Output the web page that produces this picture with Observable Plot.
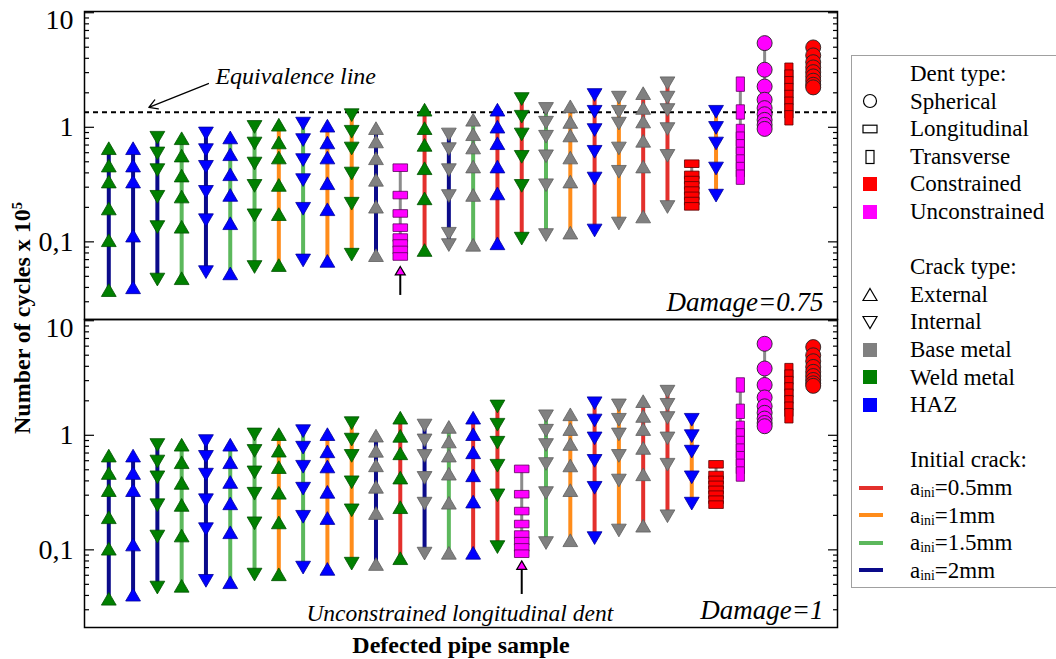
<!DOCTYPE html>
<html><head><meta charset="utf-8">
<script src="https://cdn.jsdelivr.net/npm/d3@7"></script>
<script src="https://cdn.jsdelivr.net/npm/@observablehq/plot@0.6"></script>
<style>
html,body{margin:0;padding:0;background:#fff;overflow:hidden;}
#wrap{position:relative;width:1056px;height:659px;font-family:"Liberation Serif","Times New Roman",serif;color:#000;overflow:hidden;}
#chart{position:absolute;left:0;top:0;}
#chart svg, #chart svg text{font-family:"Liberation Serif","Times New Roman",serif !important;}
.ytitle{position:absolute;left:22px;top:318px;transform:translate(-50%,-50%) rotate(-90deg);font-weight:bold;font-size:24px;white-space:nowrap;}
.xtitle{position:absolute;left:461px;top:645px;transform:translate(-50%,-50%);font-weight:bold;font-size:24px;white-space:nowrap;}
.ytitle sup{font-size:60%;vertical-align:0.55em;line-height:0;}
#legend{position:absolute;left:851px;top:55px;width:230px;height:533px;border:1px solid #a0a0a0;box-sizing:border-box;padding-top:4px;font-size:23px;}
.row{height:27.6px;line-height:27.6px;position:relative;white-space:nowrap;}
.row svg{position:absolute;left:3px;top:3.8px;overflow:visible;}
.row span{position:absolute;left:58px;top:0;}
.row sub{font-size:60%;vertical-align:-0.12em;line-height:0;}
</style>
</head>
<body>
<div id="wrap">
  <div id="chart"></div>
  <div class="ytitle">Number of cycles x 10<sup>5</sup></div>
  <div class="xtitle">Defected pipe sample</div>
  <div id="legend"></div>
</div>
<script>
// ---------------- data ----------------
const panels = ["0.75", "1"];
const majorTicks = [0.1, 1, 10];
const tickLabels = ["0,1", "1", "10"];
const minorTicks = [0.03,0.04,0.05,0.06,0.07,0.08,0.09,0.2,0.3,0.4,0.5,0.6,0.7,0.8,0.9,2,3,4,5,6,7,8,9];

// column descriptors: [initial crack, marker type, material / dent condition]
const topColumns = [
 ["2mm","external","weld"], ["2mm","external","haz"], ["2mm","internal","weld"], ["1.5mm","external","weld"],
 ["2mm","internal","haz"], ["1.5mm","external","haz"], ["1.5mm","internal","weld"], ["1mm","external","weld"],
 ["1.5mm","internal","haz"], ["1mm","external","haz"], ["1mm","internal","weld"], ["2mm","external","base"],
 ["dent","longitudinal","unconstrained"], ["0.5mm","external","weld"], ["2mm","internal","base"], ["1.5mm","external","base"],
 ["0.5mm","external","haz"], ["0.5mm","internal","weld"], ["1.5mm","internal","base"], ["1mm","external","base"],
 ["0.5mm","internal","haz"], ["1mm","internal","base"], ["0.5mm","external","base"], ["0.5mm","internal","base"],
 ["dent","longitudinal","constrained"], ["1mm","internal","haz"], ["dent","transverse","unconstrained"],
 ["dent","spherical","unconstrained"], ["dent","transverse","constrained"], ["dent","spherical","constrained"]
];
const topValues = [
 [0.655,0.462,0.335,0.195,0.103,0.0378],
 [0.655,0.462,0.335,0.113,0.040],
 [0.813,0.593,0.424,0.248,0.135,0.047],
 [0.80,0.565,0.378,0.248,0.135,0.048],
 [0.886,0.634,0.453,0.274,0.155,0.0546],
 [0.813,0.58,0.388,0.256,0.145,0.0529],
 [1.01,0.724,0.484,0.309,0.171,0.0605],
 [1.05,0.735,0.543,0.313,0.174,0.0625],
 [1.08,0.776,0.519,0.347,0.195,0.069],
 [1.03,0.735,0.543,0.324,0.192,0.068],
 [1.28,0.917,0.655,0.396,0.216,0.0775],
 [0.98,0.75,0.535,0.347,0.202,0.0763],
 [0.444,0.256,0.177,0.133,0.109,0.0967,0.085,0.0745],
 [1.42,0.98,0.70,0.438,0.239,0.0846],
 [0.868,0.647,0.424,0.252,0.118,0.094],
 [1.16,0.868,0.664,0.453,0.256,0.094],
 [1.42,1.01,0.724,0.453,0.264,0.0968],
 [1.77,1.24,0.868,0.554,0.309,0.107],
 [1.45,1.10,0.83,0.56,0.313,0.115],
 [1.52,1.11,0.846,0.543,0.335,0.12],
 [1.92,1.37,0.949,0.613,0.358,0.126],
 [1.82,1.37,1.08,0.655,0.41,0.145],
 [1.98,1.47,1.12,0.76,0.453,0.166],
 [2.43,1.82,1.42,0.968,0.565,0.202],
 [0.481,0.384,0.346,0.311,0.28,0.252,0.227,0.204],
 [1.37,0.99,0.724,0.438,0.254],
 [2.38,1.36,0.919,0.788,0.676,0.58,0.498,0.428,0.367],
 [5.43,3.18,2.27,1.74,1.47,1.30,1.16,1.05,0.968],
 [3.15,2.74,2.40,2.09,1.82,1.59,1.39,1.21],
 [4.98,4.24,3.70,3.33,3.03,2.78,2.55,2.35,2.23]
];
const bottomColumns = [
 ["2mm","external","weld"], ["2mm","external","haz"], ["2mm","internal","weld"], ["1.5mm","external","weld"],
 ["2mm","internal","haz"], ["1.5mm","external","haz"], ["1.5mm","internal","weld"], ["1mm","external","weld"],
 ["1.5mm","internal","haz"], ["1mm","external","haz"], ["1mm","internal","weld"], ["2mm","external","base"],
 ["0.5mm","external","weld"], ["2mm","internal","base"], ["1.5mm","external","base"], ["0.5mm","external","haz"],
 ["0.5mm","internal","weld"], ["dent","longitudinal","unconstrained"], ["1.5mm","internal","base"], ["1mm","external","base"],
 ["0.5mm","internal","haz"], ["1mm","internal","base"], ["0.5mm","external","base"], ["0.5mm","internal","base"],
 ["1mm","internal","haz"], ["dent","longitudinal","constrained"], ["dent","transverse","unconstrained"],
 ["dent","spherical","unconstrained"], ["dent","transverse","constrained"], ["dent","spherical","constrained"]
];
const bottomValues = [
 [0.663,0.467,0.331,0.192,0.102,0.0373],
 [0.663,0.467,0.331,0.111,0.0405],
 [0.825,0.592,0.431,0.246,0.131,0.047],
 [0.825,0.58,0.383,0.246,0.133,0.0484],
 [0.893,0.65,0.455,0.272,0.152,0.0538],
 [0.825,0.58,0.39,0.254,0.142,0.052],
 [1.02,0.732,0.476,0.31,0.171,0.061],
 [1.02,0.732,0.526,0.314,0.173,0.061],
 [1.09,0.782,0.533,0.343,0.195,0.0702],
 [1.02,0.722,0.533,0.32,0.189,0.068],
 [1.28,0.92,0.663,0.39,0.222,0.076],
 [0.99,0.73,0.545,0.354,0.209,0.075],
 [1.42,0.986,0.694,0.426,0.235,0.0843],
 [1.22,0.905,0.663,0.426,0.254,0.093],
 [1.18,0.88,0.663,0.461,0.257,0.094],
 [1.42,1.02,0.708,0.446,0.263,0.094],
 [1.79,1.24,0.864,0.544,0.30,0.106],
 [0.509,0.306,0.218,0.168,0.136,0.119,0.105,0.0925],
 [1.47,1.10,0.825,0.563,0.314,0.115],
 [1.52,1.13,0.837,0.544,0.331,0.121],
 [1.91,1.35,0.942,0.60,0.349,0.127],
 [1.83,1.37,1.02,0.663,0.404,0.148],
 [1.98,1.47,1.13,0.773,0.455,0.162],
 [2.41,1.85,1.42,0.942,0.555,0.197],
 [1.37,0.986,0.722,0.431,0.254],
 [0.558,0.45,0.408,0.369,0.334,0.303,0.274,0.248],
 [2.75,1.62,1.15,0.988,0.848,0.728,0.625,0.536,0.459],
 [6.29,3.83,2.75,2.14,1.79,1.57,1.40,1.28,1.20],
 [3.67,3.22,2.83,2.49,2.19,1.92,1.69,1.48],
 [5.89,4.99,4.43,3.95,3.58,3.29,3.04,2.84,2.70]
];

// annotations
const equivalence = [{panel: "0.75", v: 1.35}];
const equivNote = [{panel: "0.75", x: 4.39, y: 2.78, text: "Equivalence line"}];
const equivArrow = [{panel: "0.75", x1: 4.10, y1: 2.41, x2: 1.65, y2: 1.49}];
const dentArrows = [{panel: "0.75", col: 12, from: 0.0344, to: 0.0557}, {panel: "1", col: 17, from: 0.0412, to: 0.0732}];
const damageLabels = [{panel: "0.75", text: "Damage=0.75"}, {panel: "1", text: "Damage=1"}];
const dentNote = [{panel: "1", x: 14.45, text: "Unconstrained longitudinal dent"}];

// ---------------- styles ----------------
const crackColor = {"0.5mm": "#e3302c", "1mm": "#ff8c1a", "1.5mm": "#5cb85c", "2mm": "#0a0a8a", "dent": "#8c8c8c"};
const materialFill = {base: "#808080", weld: "#008000", haz: "#0000ff", constrained: "#ff0000", unconstrained: "#ff00ff"};
const materialStroke = {base: "#5e5e5e", weld: "#005200", haz: "#00009a", constrained: "#5a0000", unconstrained: "#5a005a"};

// ---------------- build tables ----------------
const columns = [], points = [];
function addPanel(panel, cols, vals) {
  cols.forEach(([crack, type, material], i) => {
    const v = vals[i];
    columns.push({panel, col: i, crack, min: d3.min(v), max: d3.max(v)});
    v.forEach(value => points.push({panel, col: i, v: value, type, material}));
  });
}
addPanel(panels[0], topColumns, topValues);
addPanel(panels[1], bottomColumns, bottomValues);

const triUp = {draw(c) { c.moveTo(0, -6.5); c.lineTo(7.4, 6.2); c.lineTo(-7.4, 6.2); c.closePath(); }};
const triDown = {draw(c) { c.moveTo(0, 6.5); c.lineTo(7.4, -6.2); c.lineTo(-7.4, -6.2); c.closePath(); }};
const smallTri = {draw(c) { c.moveTo(0, -4.5); c.lineTo(5, 4); c.lineTo(-5, 4); c.closePath(); }};
const hRect = {draw(c) { c.rect(-7.3, -3.8, 14.6, 7.6); }};
const vRect = {draw(c) { c.rect(-4.1, -7.2, 8.2, 14.4); }};
const symbolFor = {external: triUp, internal: triDown, longitudinal: hRect, transverse: vRect};

const serif = "Liberation Serif";
const dotMarks = ["external", "internal", "longitudinal", "transverse"].map(type =>
  Plot.dot(points.filter(p => p.type === type), {
    x: "col", y: "v", fy: "panel", symbol: symbolFor[type], r: 6,
    fill: d => materialFill[d.material], stroke: d => materialStroke[d.material], strokeWidth: 0.8
  }));
const minorInDomain = minorTicks.filter(t => t > 0.021 && t < 10.25);
const labelFormat = d => tickLabels[majorTicks.indexOf(d)];

const chart = Plot.plot({
  width: 1056, height: 659,
  marginLeft: 84, marginRight: 219, marginTop: 10, marginBottom: 32,
  x: {domain: [-1, 30], axis: null},
  y: {type: "log", domain: [0.021, 10.25], axis: null},
  fy: {domain: panels, padding: 0, axis: null},
  style: {fontFamily: serif, fontSize: "23px", background: "white", color: "black", overflow: "visible"},
  marks: [
    Plot.ruleX(columns.filter(d => d.crack !== "dent"), {x: "col", y1: "min", y2: "max", fy: "panel", stroke: d => crackColor[d.crack], strokeWidth: 4}),
    Plot.ruleX(columns.filter(d => d.crack === "dent"), {x: "col", y1: "min", y2: "max", fy: "panel", stroke: crackColor.dent, strokeWidth: 3}),
    Plot.ruleY(equivalence, {y: "v", fy: "panel", stroke: "black", strokeWidth: 2, strokeDasharray: "5,4"}),
    ...dotMarks,
    Plot.dot(points.filter(p => p.type === "spherical"), {x: "col", y: "v", fy: "panel", symbol: "circle", r: 7.5, fill: d => materialFill[d.material], stroke: "#222", strokeWidth: 0.9}),
    Plot.link(dentArrows, {x: "col", y1: "from", y2: "to", fy: "panel", stroke: "black", strokeWidth: 2}),
    Plot.dot(dentArrows, {x: "col", y: "to", fy: "panel", symbol: smallTri, r: 4, fill: "#ff00ff", stroke: "black", strokeWidth: 1.2}),
    Plot.arrow(equivArrow, {x1: "x1", y1: "y1", x2: "x2", y2: "y2", fy: "panel", stroke: "black", strokeWidth: 1.3, headLength: 11, bend: false}),
    Plot.text(equivNote, {x: "x", y: "y", text: "text", fy: "panel", textAnchor: "start", fontFamily: serif, fontStyle: "italic", fontSize: 24}),
    Plot.text(damageLabels, {text: "text", fy: "panel", frameAnchor: "bottom-right", dx: -14, dy: -9, fontFamily: serif, fontStyle: "italic", fontSize: 27}),
    Plot.text(dentNote, {x: "x", text: "text", fy: "panel", frameAnchor: "bottom", dy: -7, fontFamily: serif, fontStyle: "italic", fontSize: 23.5}),
    Plot.frame({stroke: "black", strokeWidth: 1.5}),
    Plot.axisY(majorTicks, {anchor: "left", tickSize: 10, dx: 10, fill: "none", label: null, strokeWidth: 1.2}),
    Plot.axisY(minorInDomain, {anchor: "left", tickSize: 5, dx: 5, fill: "none", label: null, strokeWidth: 1.2}),
    Plot.axisY(majorTicks, {anchor: "right", tickSize: 10, dx: -10, fill: "none", label: null, strokeWidth: 1.2}),
    Plot.axisY(minorInDomain, {anchor: "right", tickSize: 5, dx: -5, fill: "none", label: null, strokeWidth: 1.2}),
    Plot.axisY(majorTicks.filter(t => t < 10), {anchor: "left", tickSize: 0, tickPadding: 11, label: null, fontFamily: serif, fontSize: 28, tickFormat: labelFormat}),
    Plot.axisY(majorTicks.filter(t => t >= 10), {anchor: "left", tickSize: 0, tickPadding: 11, dy: 7, label: null, fontFamily: serif, fontSize: 28, tickFormat: labelFormat})
  ]
});
document.getElementById("chart").appendChild(chart);

// ---------------- legend ----------------
const dentLegend = [
  {text: "Dent type:"},
  {sym: "circle", text: "Spherical"},
  {sym: "hrect", text: "Longitudinal"},
  {sym: "vrect", text: "Transverse"},
  {sym: "square", color: materialFill.constrained, text: "Constrained"},
  {sym: "square", color: materialFill.unconstrained, text: "Unconstrained"}
];
const crackLegend = [
  {text: "Crack type:"},
  {sym: "up", text: "External"},
  {sym: "down", text: "Internal"},
  {sym: "square", color: materialFill.base, text: "Base metal"},
  {sym: "square", color: materialFill.weld, text: "Weld metal"},
  {sym: "square", color: materialFill.haz, text: "HAZ"}
];
const initialLegend = [
  {text: "Initial crack:"},
  {sym: "line", color: crackColor["0.5mm"], html: "a<sub>ini</sub>=0.5mm"},
  {sym: "line", color: crackColor["1mm"], html: "a<sub>ini</sub>=1mm"},
  {sym: "line", color: crackColor["1.5mm"], html: "a<sub>ini</sub>=1.5mm"},
  {sym: "line", color: crackColor["2mm"], html: "a<sub>ini</sub>=2mm"}
];
function symSvg(r) {
  const s = 'stroke="#000" stroke-width="1.2" fill="none"';
  switch (r.sym) {
    case "circle": return `<circle cx="15" cy="10" r="6.5" ${s}/>`;
    case "hrect": return `<rect x="8" y="6.2" width="14" height="7.6" ${s}/>`;
    case "vrect": return `<rect x="11" y="3.5" width="8" height="13" ${s}/>`;
    case "square": return `<rect x="8" y="3" width="14" height="14" fill="${r.color}"/>`;
    case "up": return `<path d="M15,3.5 L22,15.5 L8,15.5Z" ${s}/>`;
    case "down": return `<path d="M8,4.5 L22,4.5 L15,16.5Z" ${s}/>`;
    case "line": return `<line x1="4" x2="28" y1="10" y2="10" stroke="${r.color}" stroke-width="4"/>`;
  }
  return "";
}
const legendRows = [...dentLegend, {}, ...crackLegend, {}, ...initialLegend];
document.getElementById("legend").innerHTML = legendRows.map(r =>
  `<div class="row">${r.sym ? `<svg width="30" height="20">${symSvg(r)}</svg>` : ""}${r.text || r.html ? `<span>${r.html || r.text}</span>` : ""}</div>`
).join("");
</script>
</body></html>
